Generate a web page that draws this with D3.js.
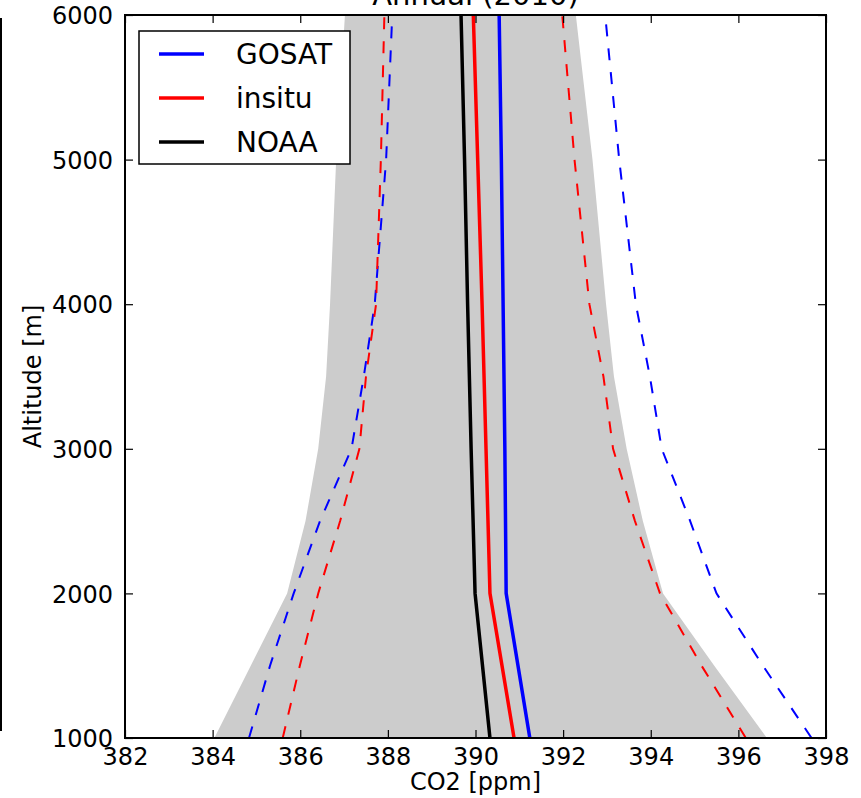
<!DOCTYPE html>
<html>
<head>
<meta charset="utf-8">
<script src="https://cdn.jsdelivr.net/npm/d3@7"></script>
<style>
  html, body { margin: 0; padding: 0; background: #fff; }
  svg { display: block; font-family: "DejaVu Sans", sans-serif; }
</style>
</head>
<body>
<svg id="chart" width="861" height="798"></svg>
<script>
// ---- data ----
const title = "Annual (2010)";
const xLabel = "CO2 [ppm]";
const yLabel = "Altitude [m]";
const xTicks = [382, 384, 386, 388, 390, 392, 394, 396, 398];
const yTicks = [1000, 2000, 3000, 4000, 5000, 6000];

// altitudes for band and dashed spread curves
const bandAlt   = [1000, 1500, 2000, 2500, 3000, 3500, 4000, 5000, 6000];
const bandLow   = [384.04, 384.87, 385.70, 386.12, 386.41, 386.59, 386.68, 386.82, 387.02];
const bandHigh  = [396.65, 395.45, 394.28, 393.82, 393.45, 393.16, 392.98, 392.67, 392.29];

const gosatLow  = [384.83, 385.31, 385.85, 386.45, 387.17, 387.45, 387.70, 387.96, 388.10];
const gosatHigh = [397.67, 396.56, 395.50, 394.90, 394.25, 393.98, 393.66, 393.28, 392.96];
const insituLow = [385.60, 385.99, 386.41, 386.91, 387.35, 387.50, 387.73, 387.84, 387.92];
const insituHigh= [396.17, 395.16, 394.21, 393.64, 393.14, 392.92, 392.60, 392.26, 391.98];

// altitudes for mean profiles
const meanAlt   = [1000, 2000, 3000, 4000, 5000, 6000];
const gosatMean = [391.24, 390.70, 390.67, 390.63, 390.59, 390.54];
const insituMean= [390.88, 390.33, 390.24, 390.15, 390.05, 389.95];
const noaaMean  = [390.33, 389.99, 389.90, 389.82, 389.75, 389.67];

const seriesNames = ["GOSAT", "insitu", "NOAA"];
const seriesColors = ["#0000ff", "#ff0000", "#000000"];

// ---- layout ----
const svg = d3.select("#chart");
const L = 125, R = 826, T = 15, B = 738;
const x = d3.scaleLinear().domain([382, 398]).range([L, R]);
const y = d3.scaleLinear().domain([1000, 6000]).range([B, T]);

svg.append("clipPath").attr("id", "clip")
  .append("rect").attr("x", L).attr("y", T).attr("width", R - L).attr("height", B - T);

const plot = svg.append("g").attr("clip-path", "url(#clip)");

// band
const bandData = bandAlt.map((a, i) => ({a, lo: bandLow[i], hi: bandHigh[i]}));
plot.append("path")
  .datum(bandData)
  .attr("fill", "#cccccc")
  .attr("d", d3.area().y(d => y(d.a)).x0(d => x(d.lo)).x1(d => x(d.hi)));

const line = d3.line().x(d => x(d[1])).y(d => y(d[0]));
function drawLine(alts, vals, color, width, dash) {
  plot.append("path")
    .datum(alts.map((a, i) => [a, vals[i]]))
    .attr("fill", "none")
    .attr("stroke", color)
    .attr("stroke-width", width)
    .attr("stroke-dasharray", dash || null)
    .attr("d", line);
}
// dashed spreads
drawLine(bandAlt, gosatLow, "#0000ff", 2, "12,12");
drawLine(bandAlt, gosatHigh, "#0000ff", 2, "12,12");
drawLine(bandAlt, insituLow, "#ff0000", 2, "12,12");
drawLine(bandAlt, insituHigh, "#ff0000", 2, "12,12");
// means
drawLine(meanAlt, gosatMean, "#0000ff", 3.5);
drawLine(meanAlt, insituMean, "#ff0000", 3.5);
drawLine(meanAlt, noaaMean, "#000000", 3.5);

// ---- axes ----
const tickLen = 8;
const axes = svg.append("g");
const fs = 24;
// bottom
const xb = d3.axisBottom(x).tickValues(xTicks).tickSizeInner(-tickLen).tickSizeOuter(0).tickPadding(10).tickFormat(d3.format("d"));
const gxb = axes.append("g").attr("transform", `translate(0,${B})`).call(xb);
const xt = d3.axisTop(x).tickValues(xTicks).tickSizeInner(-tickLen).tickSizeOuter(0).tickFormat("");
const gxt = axes.append("g").attr("transform", `translate(0,${T})`).call(xt);
const yl = d3.axisLeft(y).tickValues(yTicks).tickSizeInner(-tickLen).tickSizeOuter(0).tickPadding(12).tickFormat(d3.format("d"));
const gyl = axes.append("g").attr("transform", `translate(${L},0)`).call(yl);
const yr = d3.axisRight(y).tickValues(yTicks).tickSizeInner(-tickLen).tickSizeOuter(0).tickFormat("");
const gyr = axes.append("g").attr("transform", `translate(${R},0)`).call(yr);
[gxb, gxt, gyl, gyr].forEach(g => {
  g.select(".domain").remove();
  g.selectAll(".tick line").attr("stroke", "#000").attr("stroke-width", 1.2);
  g.selectAll("text").attr("font-size", fs).attr("font-family", "DejaVu Sans").attr("fill", "#000");
});
gxb.selectAll("text").attr("dy", "0.71em");
gyl.selectAll("text").attr("dy", "0.36em");

// frame
axes.append("rect").attr("x", L).attr("y", T).attr("width", R - L).attr("height", B - T)
  .attr("fill", "none").attr("stroke", "#000").attr("stroke-width", 2);

// labels
svg.append("text").attr("x", (L + R) / 2).attr("y", 790).attr("text-anchor", "middle")
  .attr("font-size", 24).text(xLabel);
svg.append("text").attr("transform", `translate(41,${(T + B) / 2}) rotate(-90)`)
  .attr("text-anchor", "middle").attr("font-size", 24).text(yLabel);
svg.append("text").attr("x", (L + R) / 2).attr("y", 5).attr("text-anchor", "middle")
  .attr("font-size", 29).text(title);

// left edge line from neighbouring panel
svg.append("line").attr("x1", 1).attr("x2", 1).attr("y1", 18).attr("y2", 731)
  .attr("stroke", "#000").attr("stroke-width", 2);

// ---- legend ----
const lg = svg.append("g");
lg.append("rect").attr("x", 139).attr("y", 31).attr("width", 211).attr("height", 133)
  .attr("fill", "#fff").attr("stroke", "#000").attr("stroke-width", 1.5);
seriesNames.forEach((n, i) => {
  const yy = 54 + i * 44;
  lg.append("line").attr("x1", 159).attr("x2", 204).attr("y1", yy).attr("y2", yy)
    .attr("stroke", seriesColors[i]).attr("stroke-width", 3.5);
  lg.append("text").attr("x", 236).attr("y", yy).attr("dy", "0.36em")
    .attr("font-size", 28).text(n);
});
</script>
</body>
</html>
